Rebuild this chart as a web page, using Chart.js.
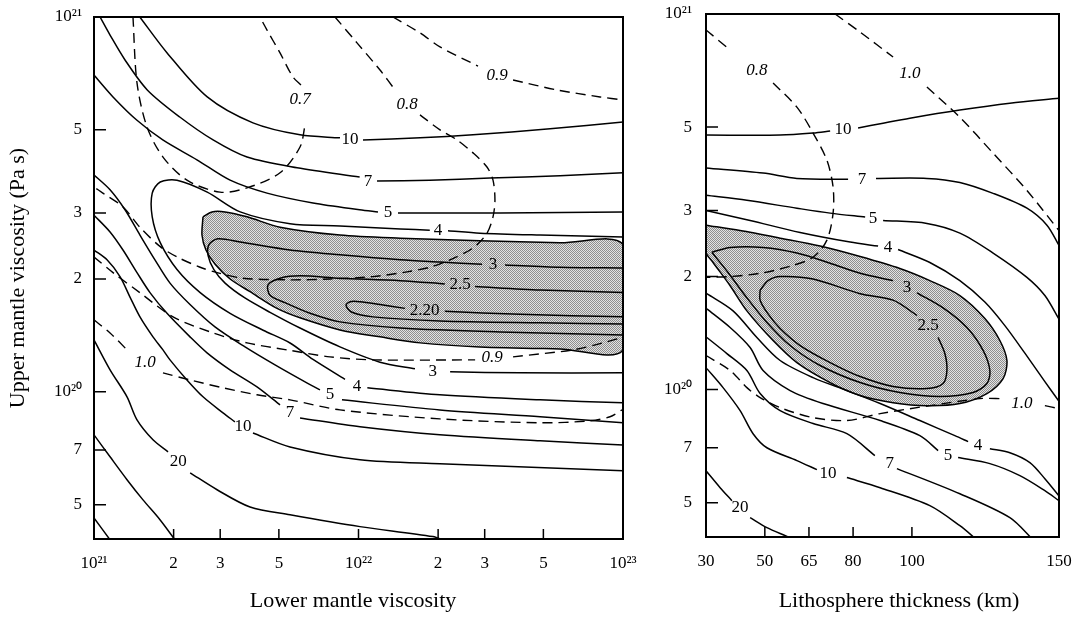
<!DOCTYPE html>
<html>
<head>
<meta charset="utf-8">
<script src="https://cdn.jsdelivr.net/npm/chart.js@4.4.0/dist/chart.umd.min.js"></script>
<style>
  body { margin: 0; background: #fff; width: 1078px; height: 617px; overflow: hidden; position: relative; }
  #leftChart { position: absolute; left: 0; top: 0; }
  #rightChart { position: absolute; left: 640px; top: 0; }
</style>
</head>
<body>
<canvas id="leftChart" width="640" height="617"></canvas>
<canvas id="rightChart" width="438" height="617"></canvas>
<script>
// axes
const lowerTicks = [1, 2, 3, 5, 10, 20, 30, 50, 100];          // lower mantle, 1e21 Pa s
const lowerTickLabels = ['10²¹', '2', '3', '5', '10²²', '2', '3', '5', '10²³'];
const upperTicks = [0.5, 0.7, 1, 2, 3, 5, 10];                  // upper mantle, 1e20 Pa s
const upperTickLabels = ['5', '7', '10²⁰', '2', '3', '5', '10²¹'];
const thickTicks = [30, 50, 65, 80, 100, 150];                  // lithosphere, km

// left panel: [lower mantle, upper mantle], null = gap for a label
const L10 = [[1.49,10],[1.89,8.02],[2.68,6.12],[3.99,5.22],[6.01,4.85],[8.51,4.76],null,[10.4,4.70],[17.1,4.76],[27.1,4.85],[53,5.03],[100,5.25]];
const L7 = [[1.054,10],[1.15,8.95],[1.31,7.68],[1.59,6.39],[2.11,5.41],[2.82,4.70],[3.79,4.23],[5.86,3.96],[10.1,3.74],null,[11.75,3.65],[18.6,3.67],[31.4,3.72],[57.8,3.77],[100,3.84]];
const L5 = [[1,7.0],[1.18,6.12],[1.45,5.31],[1.82,4.70],[2.45,4.16],[3.27,3.67],[4.51,3.39],[6.73,3.19],[10.1,3.06],[11.85,3.02],null,[14.1,3.0],[34.3,3.0],[100,3.02]];
const L4 = [[100,2.59],[48.6,2.62],[28.8,2.65],[21.8,2.69],null,[18.6,2.70],[14.4,2.72],[8.51,2.77],[5.51,2.81],[3.57,3.02],[2.68,3.41],[2.06,3.67],[1.78,3.63],[1.66,3.39],[1.66,2.93],[1.78,2.50],[2.06,2.12],[2.52,1.84],[3.27,1.62],[4.36,1.46],[5.51,1.35],[6.73,1.22],[8.89,1.08],null,[10.8,1.025],[20.3,0.982],[48.6,0.952],[100,0.935]];
const L3 = [[100,2.14],[57.8,2.15],[35.8,2.18],null,[29.3,2.19],[20.3,2.22],[14.4,2.25],[8.51,2.32],[5.51,2.39],[3.57,2.51],[2.94,2.56],[2.72,2.47],[2.70,2.31],[2.84,2.12],[3.13,1.95],[3.72,1.78],[4.63,1.63],[6.01,1.48],[8.51,1.318],[12.06,1.20],[16.35,1.152],null,[22.2,1.131],[40.8,1.124],[100,1.124]];
const L25 = [[100,1.84],[48.6,1.87],[27.6,1.91],null,[21.2,1.94],[14.4,1.98],[8.51,2.01],[6.01,2.04],[5.05,2.01],[4.55,1.93],[4.63,1.81],[5.27,1.73],[6.56,1.62],[8.51,1.537],[14.4,1.481],[34.3,1.445],[100,1.419]];
const L22 = [[100,1.585],[40.8,1.61],[21.2,1.64],null,[15.0,1.67],[12.06,1.71],[10.13,1.74],[9.29,1.74],[8.97,1.70],[9.45,1.63],[11.34,1.585],[20.3,1.546],[48.6,1.528],[100,1.518]];
const L5low = [[1,3.79],[1.15,3.46],[1.31,3.06],[1.492,2.62],[1.70,2.25],[1.938,1.95],[2.307,1.71],[2.867,1.49],[3.724,1.318],[4.835,1.180],[6.28,1.063],[7.15,1.012],null,[8.66,0.952],[20.3,0.895],[48.6,0.858],[100,0.827]];
const L7low = [[1,2.96],[1.15,2.67],[1.287,2.39],[1.454,2.08],[1.628,1.84],[1.888,1.62],[2.307,1.402],[2.675,1.271],[3.267,1.145],[4.133,1.031],[5.05,0.923],null,[6.01,0.852],[10.13,0.807],[20.3,0.768],[48.6,0.740],[100,0.722]];
const L10low = [[1,2.39],[1.12,2.25],[1.254,2.03],[1.368,1.79],[1.492,1.585],[1.671,1.402],[1.823,1.294],[1.938,1.217],[2.246,1.076],[2.583,0.970],[3.074,0.879],[3.41,0.832],null,[3.99,0.777],[5.51,0.713],[10.13,0.659],[20.3,0.643],[100,0.616]];
const L20 = [[1,1.376],[1.15,1.145],[1.333,0.970],[1.454,0.842],[1.671,0.745],[1.905,0.692],null,[2.31,0.608],[2.92,0.548],[3.89,0.493],[5.51,0.470],[10.13,0.437],[19.1,0.411],[21.2,0.40]];
const L50 = [[1,0.768],[1.15,0.671],[1.333,0.583],[1.532,0.515],[1.776,0.456],[2.024,0.403]];
const L100 = [[1,0.461],[1.15,0.403]];
const Lshade = [[2.583,2.93],[2.79,3.02],[3.13,3.02],[3.79,2.93],[5.05,2.75],[8.51,2.62],[14.4,2.57],[28.8,2.53],[57.8,2.50],[100,2.47],
                [100,1.294],[57.8,1.302],[28.8,1.318],[17.1,1.351],[12.06,1.402],[8.51,1.463],[6.01,1.576],[4.92,1.67],[3.89,1.85],[3.27,2.0],[2.87,2.19],[2.65,2.39],[2.56,2.62],[2.583,2.93]];
const L07 = [[1.404,10],[1.454,6.67],[1.586,5.09],[1.823,4.23],[2.246,3.67],[2.995,3.41],[3.788,3.50],[5.05,3.84],[6.01,4.50],[6.28,5.15],null,[6.06,6.59],[5.65,6.92],[5.05,8.02],[4.51,9.23],[4.24,10]];
const L08 = [[8.15,10],[9.87,8.53],[12.06,7.22],[13.74,6.39],null,[17.08,5.48],[20.33,5.00],[23.57,4.70],[27.1,4.34],[30.6,3.98],[32.25,3.67],[32.8,3.25],[32.25,2.93],[30.6,2.65],[27.1,2.42],[22.2,2.25],[18.64,2.15],[15.26,2.09],[11.34,2.03],[7.80,2.00],[5.51,1.99],[3.66,2.01],[2.92,2.08],[2.52,2.15],[2.06,2.29],[1.78,2.44],[1.49,2.75],[1.29,3.11],[1.08,3.39],[1.0,3.52]];
const L09a = [[13.5,10],[17.08,9.07],[20.33,8.32],[28.3,7.40],null,[38.4,6.79],[56.3,6.39],[81.85,6.12],[100,6.01]];
const L09b = [[1,2.29],[1.18,2.08],[1.49,1.84],[1.99,1.585],[2.82,1.436],[3.79,1.351],[5.37,1.294],[7.80,1.240],[11.34,1.217],[27.6,1.217],null,[38.4,1.240],[64.7,1.294],[84.0,1.351],[94.9,1.385],[100,1.41]];
const L10d = [[1,1.556],[1.15,1.436],[1.333,1.294],null,[1.823,1.124],[2.307,1.076],[3.074,1.025],[4.133,0.982],[5.51,0.952],[8.51,0.895],[20.3,0.847],[48.6,0.827],[75.0,0.837],[89.3,0.858],[99.1,0.895]];
const leftLabels = [[9.29,4.70,'10'],[10.86,3.63,'7'],[12.93,3.0,'5'],[20.0,2.70,'4'],[32.25,2.18,'3'],[24.2,1.93,'2.5'],[17.8,1.65,'2.20'],
                    [19.1,1.131,'3'],[9.87,1.031,'4'],[7.80,0.982,'5'],[5.51,0.879,'7'],[3.66,0.807,'10'],[2.08,0.651,'20']];
const leftDashLabels = [[6.01,6.01,'0.7'],[15.26,5.83,'0.8'],[33.4,7.0,'0.9'],[31.97,1.232,'0.9'],[1.559,1.195,'1.0']];

// right panel: [lithosphere km, upper mantle]
const R10 = [[30,4.76],[55.2,4.76],[66.4,4.82],[72.2,4.88],null,[81.7,4.97],[90.2,5.12],[99.3,5.28],[116.3,5.55],[133.3,5.79],[150,5.97]];
const R7 = [[30,3.89],[49.4,3.77],[60.9,3.65],[78.3,3.63],null,[87.8,3.65],[105.1,3.65],[116.3,3.56],[127.6,3.33],[139.1,3.04],[145.9,2.74],[150,2.42]];
const R5 = [[30,3.29],[43.9,3.19],[60.9,3.04],[72.2,2.95],[84.1,2.88],null,[90.2,2.82],[105.1,2.77],[116.3,2.61],[127.6,2.31],[139.1,1.99],[145.2,1.78],[150,1.54]];
const R4 = [[30,3.00],[45.0,2.82],[62.0,2.62],[79.0,2.47],[88.5,2.41],null,[95.3,2.36],[106.1,2.18],[116.3,1.95],[124.8,1.71],[131.6,1.48],[138.4,1.25],[145.2,1.05],[150,0.93]];
const R3 = [[32.0,2.32],[38.2,2.39],[49.4,2.39],[60.9,2.31],[72.2,2.17],[82.4,2.04],[93.6,1.95],null,[101.7,1.81],[110.6,1.65],[118.7,1.463],[124.2,1.271],[126.5,1.124],[125.5,1.038],[120.8,0.982],[109.5,0.958],[95.9,0.982],[82.4,1.044],[68.8,1.159],[58.6,1.310],[50.1,1.528],[43.3,1.78],[37.5,2.05],[32.0,2.32]];
const R25 = [[48.4,1.84],[51.1,1.95],[55.2,2.00],[66.4,1.97],[82.4,1.80],[93.6,1.73],[101.7,1.576],null,[108.9,1.376],[111.2,1.247],[111.9,1.124],[110.6,1.038],[105.1,1.006],[93.6,1.019],[82.4,1.083],[72.2,1.180],[62.0,1.310],[55.2,1.454],[51.1,1.59],[48.4,1.73],[48.4,1.84]];
const R4low = [[30.3,1.80],[39.2,1.62],[47.3,1.376],[55.2,1.195],[66.4,1.076],[77.9,0.994],[89.2,0.918],[102.7,0.827],[114.6,0.754],[119.1,0.727],null,[126.5,0.696],[133.3,0.679],[140.1,0.639],[145.2,0.579],[150,0.521]];
const R5low = [[30.3,1.64],[38.2,1.463],[45.0,1.294],[49.4,1.124],[58.6,0.994],[69.8,0.918],[89.2,0.827],[102.7,0.754],[108.9,0.688],null,[115.7,0.659],[126.5,0.635],[136.7,0.590],[145.2,0.538],[150,0.506]];
const R7low = [[30.3,1.376],[37.1,1.247],[43.9,1.124],[48.4,0.976],[55.2,0.879],[66.4,0.812],[77.9,0.763],[87.4,0.667],null,[94.9,0.616],[116.3,0.528],[133.3,0.456],[141.2,0.398]];
const R10low = [[30.3,1.137],[35.8,1.012],[41.6,0.879],[46.0,0.763],[50.7,0.700],[60.9,0.647],[67.7,0.612],null,[77.9,0.583],[89.2,0.548],[106.1,0.491],[116.3,0.434],[122.1,0.398]];
const R20 = [[30,0.608],[34.8,0.548],[38.8,0.506],null,[45.0,0.456],[50.7,0.429],[58.6,0.403],[62.0,0.39]];
const Rshade = [[30,2.74],[41.6,2.65],[55.2,2.53],[68.8,2.41],[82.4,2.26],[95.9,2.10],[106.1,1.95],[116.3,1.78],[124.8,1.546],[129.9,1.351],[132.3,1.195],[131.0,1.070],[125.5,0.976],[116.3,0.918],[105.1,0.906],[93.6,0.923],[82.4,0.964],[72.2,1.044],[60.9,1.180],[52.8,1.351],[43.9,1.62],[38.2,1.89],[32.4,2.18],[30,2.32],[30,2.74]];
const R08 = [[30,9.07],[38.2,8.02],null,[52.8,6.55],[60.9,5.65],[66.4,4.82],[71.1,4.08],[73.2,3.46],[73.2,2.95],[71.1,2.50],[66.4,2.25],[58.6,2.13],[48.4,2.04],[38.2,2.00],[30,1.99]];
const R10top = [[73.9,10],[82.4,8.95],[93.6,7.68],null,[105.1,6.39],[116.3,5.31],[127.6,4.26],[139.1,3.39],[150,2.65]];
const R10d = [[30,1.232],[38.2,1.124],[43.9,1.012],[48.4,0.952],[55.2,0.895],[66.4,0.842],[77.9,0.827],[89.2,0.863],[106.1,0.906],[123.1,0.946],[131.0,0.946],null,[145.2,0.906],[150,0.890]];
const rightLabels = [[76.6,4.91,'10'],[83.0,3.63,'7'],[86.8,2.86,'5'],[91.9,2.39,'4'],[98.3,1.87,'3'],[105.5,1.481,'2.5'],
                     [122.5,0.709,'4'],[112.3,0.667,'5'],[92.5,0.635,'7'],[71.5,0.597,'10'],[41.6,0.485,'20']];
const rightDashLabels = [[47.3,7.09,'0.8'],[99.3,6.96,'1.0'],[137.4,0.918,'1.0']];

const serif = "'Liberation Serif', 'Times New Roman', serif";

function pts(arr) {
    let lastX = null;
    return arr.map(p => {
        if (p === null) return { x: lastX, y: null };
        lastX = p[0];
        return { x: p[0], y: p[1] };
    });
}

function contour(arr, dashed) {
    return {
        data: pts(arr),
        borderColor: '#000',
        borderWidth: dashed ? 1.4 : 1.5,
        borderDash: dashed ? [10, 6] : [],
        pointRadius: 0,
        tension: 0.3,
        fill: false,
        order: 0
    };
}

function stipple() {
    const c = document.createElement('canvas');
    c.width = 2;
    c.height = 2;
    const g = c.getContext('2d');
    g.fillStyle = '#e2e2e2';
    g.fillRect(0, 0, 2, 2);
    g.fillStyle = '#8e8e8e';
    g.fillRect(0, 0, 1, 1);
    g.fillRect(1, 1, 1, 1);
    return g.createPattern(c, 'repeat');
}

function shade(arr) {
    return {
        data: pts(arr),
        borderColor: '#000',
        borderWidth: 1.5,
        backgroundColor: stipple(),
        fill: 'shape',
        pointRadius: 0,
        tension: 0.3,
        order: 1
    };
}

// frame, inward ticks and contour labels
function overlay(xTicks, yTicks, labels, dashLabels) {
    return {
        id: 'overlay',
        afterDraw(chart) {
            const { ctx, chartArea: a, scales: { x, y } } = chart;
            ctx.save();
            ctx.strokeStyle = '#000';
            ctx.lineWidth = 1.5;
            ctx.beginPath();
            xTicks.forEach(v => {
                const px = x.getPixelForValue(v);
                ctx.moveTo(px, a.bottom);
                ctx.lineTo(px, a.bottom - 10);
            });
            yTicks.forEach(v => {
                const py = y.getPixelForValue(v);
                ctx.moveTo(a.left, py);
                ctx.lineTo(a.left + 12, py);
            });
            ctx.stroke();
            ctx.lineWidth = 2;
            ctx.strokeRect(a.left, a.top, a.right - a.left, a.bottom - a.top);

            ctx.fillStyle = '#000';
            ctx.textAlign = 'center';
            ctx.textBaseline = 'middle';
            ctx.font = '17px ' + serif;
            labels.forEach(([lx, ly, t]) => ctx.fillText(t, x.getPixelForValue(lx), y.getPixelForValue(ly)));
            ctx.font = 'italic 17px ' + serif;
            dashLabels.forEach(([lx, ly, t]) => ctx.fillText(t, x.getPixelForValue(lx), y.getPixelForValue(ly)));
            ctx.restore();
        }
    };
}

// fixed axis box, no extra room for overhanging tick labels
function fixedSize(prop, size) {
    return s => {
        s[prop] = size;
        s.paddingLeft = 0;
        s.paddingRight = 0;
        s.paddingTop = 0;
        s.paddingBottom = 0;
    };
}

function baseScale(ticks, labels, pad, extra) {
    return Object.assign({
        afterBuildTicks: s => { s.ticks = ticks.map(v => ({ value: v })); },
        grid: { display: false, drawTicks: false },
        border: { display: false },
        ticks: {
            callback: (v, i) => labels[i],
            font: { family: serif, size: 17 },
            color: '#000',
            padding: pad,
            maxRotation: 0,
            autoSkip: false
        }
    }, extra);
}

const commonOptions = {
    responsive: false,
    animation: false,
    events: [],
    plugins: { legend: { display: false }, tooltip: { enabled: false } }
};

new Chart(document.getElementById('leftChart'), {
    type: 'line',
    data: {
        datasets: [
            shade(Lshade),
            contour(L10), contour(L7), contour(L5), contour(L4), contour(L3), contour(L25), contour(L22),
            contour(L5low), contour(L7low), contour(L10low), contour(L20), contour(L50), contour(L100),
            contour(L07, true), contour(L08, true), contour(L09a, true), contour(L09b, true), contour(L10d, true)
        ]
    },
    options: Object.assign({}, commonOptions, {
        layout: { padding: { top: 17, right: 17, left: 0, bottom: 0 } },
        scales: {
            x: baseScale(lowerTicks, lowerTickLabels, 14, {
                type: 'logarithmic', min: 1, max: 100,
                afterFit: fixedSize('height', 78),
                title: { display: true, text: 'Lower mantle viscosity\u00a0\u00a0', color: '#000',
                         font: { family: serif, size: 22 }, padding: { top: 0, bottom: 3 } }
            }),
            y: baseScale(upperTicks, upperTickLabels, 12, {
                type: 'logarithmic', min: 0.405, max: 10,
                afterFit: fixedSize('width', 94),
                title: { display: true, text: 'Upper mantle viscosity (Pa s)', color: '#000',
                         font: { family: serif, size: 22 }, padding: { top: 5, bottom: 0 } }
            })
        }
    }),
    plugins: [overlay([2, 3, 5, 10, 20, 30, 50], [0.5, 0.7, 1, 2, 3, 5], leftLabels, leftDashLabels)]
});

new Chart(document.getElementById('rightChart'), {
    type: 'line',
    data: {
        datasets: [
            shade(Rshade),
            contour(R10), contour(R7), contour(R5), contour(R4), contour(R3), contour(R25),
            contour(R4low), contour(R5low), contour(R7low), contour(R10low), contour(R20),
            contour(R08, true), contour(R10top, true), contour(R10d, true)
        ]
    },
    options: Object.assign({}, commonOptions, {
        layout: { padding: { top: 14, right: 19, left: 0, bottom: 0 } },
        scales: {
            x: baseScale(thickTicks, thickTicks.map(String), 14, {
                type: 'linear', min: 30, max: 150,
                afterFit: fixedSize('height', 80),
                title: { display: true, text: '\u00a0\u00a0\u00a0\u00a0\u00a0\u00a0Lithosphere thickness (km)', color: '#000',
                         font: { family: serif, size: 22 }, padding: { top: 0, bottom: 3 } }
            }),
            y: baseScale(upperTicks, upperTickLabels, 14, {
                type: 'logarithmic', min: 0.405, max: 10,
                afterFit: fixedSize('width', 66)
            })
        }
    }),
    plugins: [overlay([50, 65, 80, 100], [0.5, 0.7, 1, 2, 3, 5], rightLabels, rightDashLabels)]
});
</script>
</body>
</html>
